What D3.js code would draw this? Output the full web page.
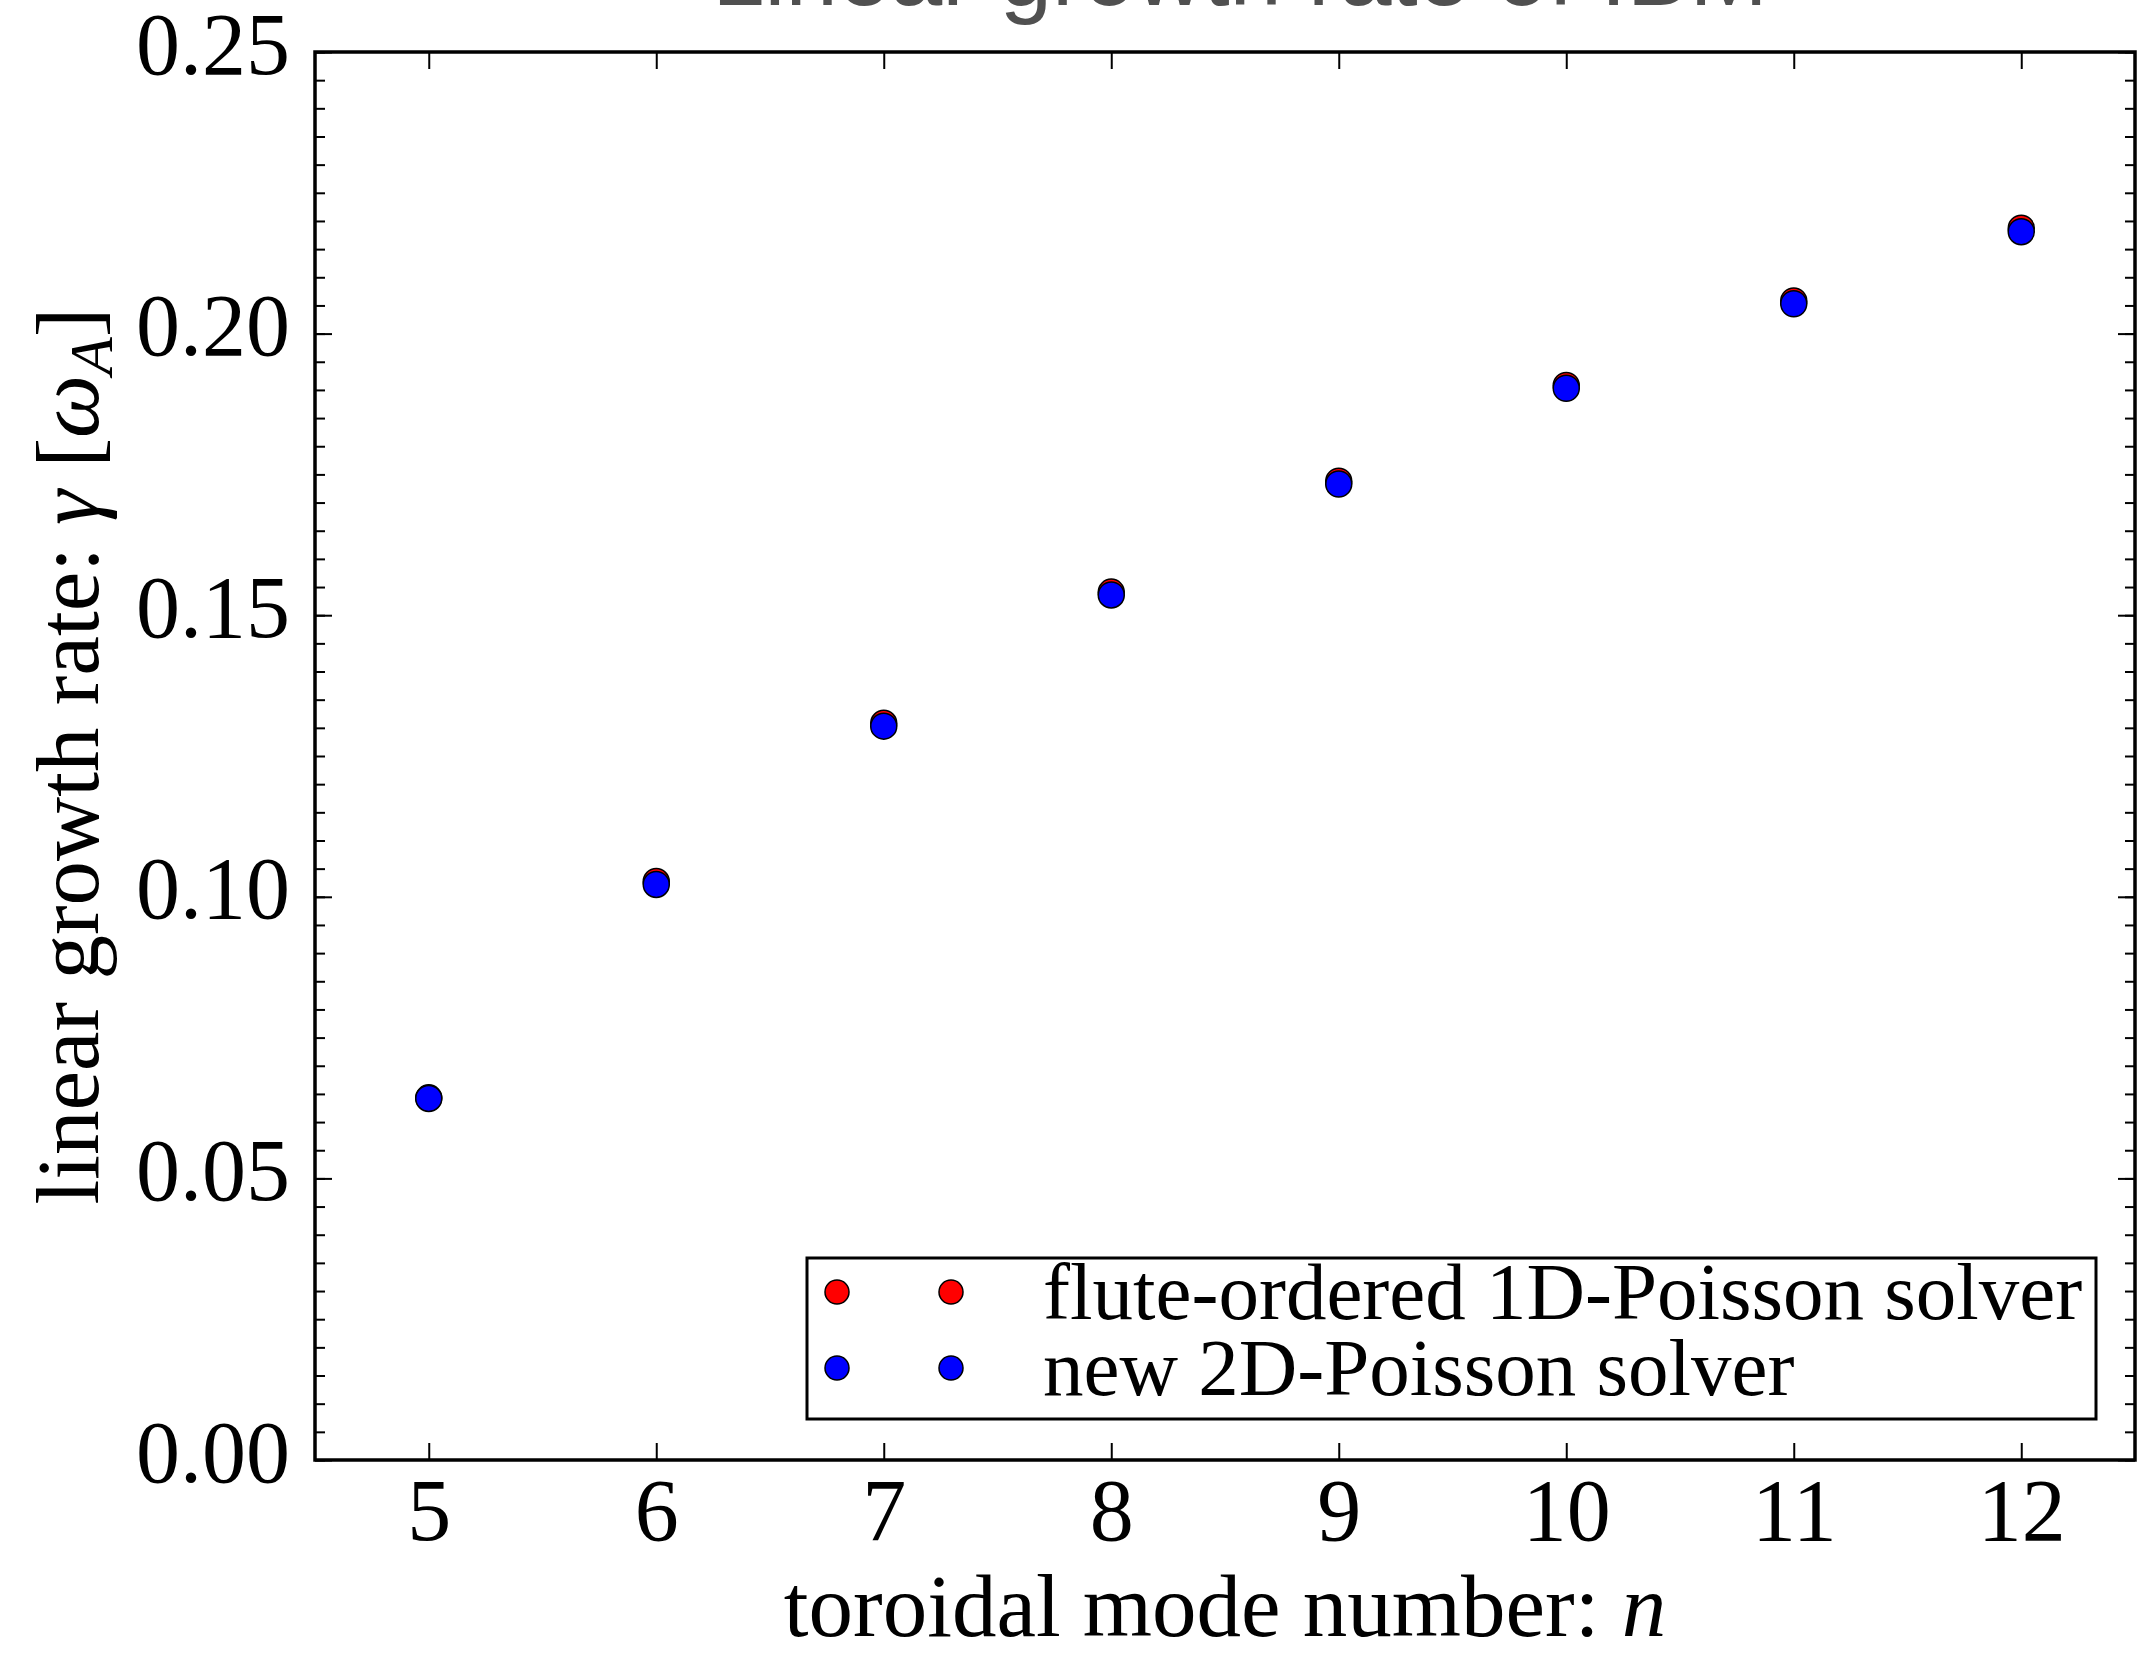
<!DOCTYPE html>
<html>
<head>
<meta charset="utf-8">
<script src="https://cdn.jsdelivr.net/npm/d3@7"></script>
<style>
  body { margin: 0; background: #fff; }
  text { font-family: "Liberation Serif", "Times New Roman", serif; }
</style>
</head>
<body>
<svg class="chart" width="2137" height="1654"></svg>
<script>
// Datos
const modos = [5, 6, 7, 8, 9, 10, 11, 12]
const flute1D = [0.0643, 0.1027, 0.1308, 0.1541, 0.1738, 0.1908, 0.2058, 0.2187]
const poisson2D = [0.0642, 0.1022, 0.1303, 0.1536, 0.1733, 0.1903, 0.2053, 0.2181]
const xTicks = [5, 6, 7, 8, 9, 10, 11, 12]
const yTicks = [0.00, 0.05, 0.10, 0.15, 0.20, 0.25]
const series = [
    {nombre: 'flute-ordered 1D-Poisson solver', valores: flute1D, color: '#ff0000'},
    {nombre: 'new 2D-Poisson solver', valores: poisson2D, color: '#0000ff'}
]

const mIzq = 315, mDer = 2135, mSup = 52, mInf = 1460

const svg = d3.select('.chart')

svg.append('rect')
    .attr('width', 2137)
    .attr('height', 1654)
    .attr('fill', '#fff')

// Escalas
const x = d3.scaleLinear().domain([4.5, 12.5]).range([mIzq, mDer])
const y = d3.scaleLinear().domain([0, 0.25]).range([mInf, mSup])

const minorY = d3.range(0, 0.2501, 0.005).map(d => +d.toFixed(3))

// Titulo (cortado arriba)
svg.append('text')
    .text('Linear growth rate of IBM')
    .attr('x', 1240)
    .attr('y', 5)
    .attr('text-anchor', 'middle')
    .style('font-family', '"Liberation Sans", Arial, sans-serif')
    .attr('font-size', '94px')
    .attr('fill', '#505050')

// Ejes
function estilo(g) {
    g.select('.domain').remove()
    g.selectAll('.tick line').attr('stroke', '#000').attr('stroke-width', 2)
    g.selectAll('.tick text').attr('font-size', '88px').attr('fill', '#000')
        .style('font-family', '"Liberation Serif", "Times New Roman", serif')
}

svg.append('g')
    .attr('transform', `translate(0, ${mInf})`)
    .call(d3.axisBottom(x).tickValues(xTicks).tickSize(-17).tickPadding(18).tickFormat(d3.format('d')))
    .call(estilo)

svg.append('g')
    .attr('transform', `translate(0, ${mSup})`)
    .call(d3.axisTop(x).tickValues(xTicks).tickSize(-17).tickFormat(''))
    .call(estilo)

const yAxis = svg.append('g')
    .attr('transform', `translate(${mIzq}, 0)`)
    .call(d3.axisLeft(y).tickValues(yTicks).tickSize(-17).tickPadding(25).tickFormat(d3.format('.2f')))
    .call(estilo)
yAxis.selectAll('.tick text').attr('dy', '0.24em')

svg.append('g')
    .attr('transform', `translate(${mIzq}, 0)`)
    .call(d3.axisLeft(y).tickValues(minorY).tickSize(-10).tickFormat(''))
    .call(estilo)

svg.append('g')
    .attr('transform', `translate(${mDer}, 0)`)
    .call(d3.axisRight(y).tickValues(yTicks).tickSize(-17).tickFormat(''))
    .call(estilo)

svg.append('g')
    .attr('transform', `translate(${mDer}, 0)`)
    .call(d3.axisRight(y).tickValues(minorY).tickSize(-10).tickFormat(''))
    .call(estilo)

// Marco
svg.append('rect')
    .attr('x', mIzq)
    .attr('y', mSup)
    .attr('width', mDer - mIzq)
    .attr('height', mInf - mSup)
    .attr('fill', 'none')
    .attr('stroke', '#000')
    .attr('stroke-width', 3.5)

// Puntos
series.forEach(s => {
    svg.append('g')
        .selectAll('circle')
        .data(modos.map((m, i) => ({m: m, v: s.valores[i]})))
        .join('circle')
        .attr('cx', d => x(d.m))
        .attr('cy', d => y(d.v))
        .attr('r', 13)
        .attr('fill', s.color)
        .attr('stroke', '#000')
        .attr('stroke-width', 1.5)
})

// Etiquetas de ejes
svg.append('text')
    .attr('x', (mIzq + mDer) / 2)
    .attr('y', 1636)
    .attr('text-anchor', 'middle')
    .attr('font-size', '89px')
    .html('toroidal mode number: <tspan font-style="italic">n</tspan>')

svg.append('text')
    .attr('transform', `translate(98, ${(mSup + mInf) / 2}) rotate(-90)`)
    .attr('text-anchor', 'middle')
    .attr('font-size', '89px')
    .html('linear growth rate: <tspan font-style="italic">γ</tspan> [<tspan font-style="italic">ω</tspan><tspan font-style="italic" font-size="62px" dy="14">A</tspan><tspan dy="-14">]</tspan>')

// Leyenda
const leyenda = svg.append('g')
leyenda.append('rect')
    .attr('x', 807)
    .attr('y', 1258)
    .attr('width', 2096 - 807)
    .attr('height', 1419 - 1258)
    .attr('fill', '#fff')
    .attr('stroke', '#000')
    .attr('stroke-width', 3)

series.forEach((s, i) => {
    const cy = 1292 + i * 76
    leyenda.append('g')
        .selectAll('circle')
        .data([837, 951])
        .join('circle')
        .attr('cx', d => d)
        .attr('cy', cy)
        .attr('r', 12)
        .attr('fill', s.color)
        .attr('stroke', '#000')
        .attr('stroke-width', 1.5)
    leyenda.append('text')
        .attr('x', 1043)
        .attr('y', cy + 27)
        .attr('font-size', '81px')
        .text(s.nombre)
})
</script>
</body>
</html>
